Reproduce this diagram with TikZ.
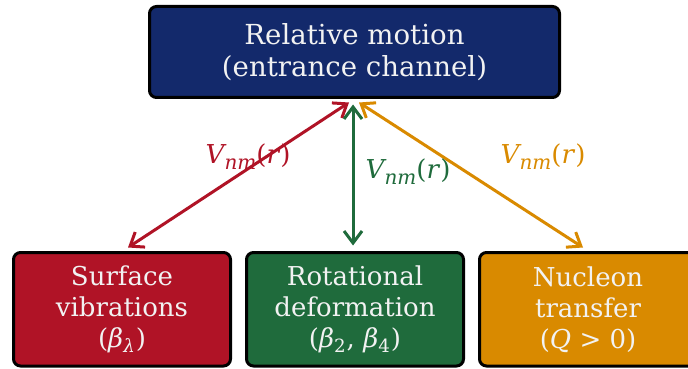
\documentclass[tikz,border=0pt]{standalone}
\usepackage{fontspec}
\setmainfont{DejaVu Serif}
\usetikzlibrary{arrows.meta,positioning}
\newcommand{\vnm}{\textit{V}\kern-1pt\raisebox{-0.45ex}{\fontsize{10}{10}\selectfont\textit{nm}}(\textit{r})}
\definecolor{cplNavy}{HTML}{13296B}
\definecolor{cplRed}{HTML}{B01326}
\definecolor{cplGreen}{HTML}{1F6B3C}
\definecolor{cplAmber}{HTML}{D98A00}
\definecolor{cplText}{HTML}{F2F2F2}
\tikzset{
    >={Straight Barb[length=6pt,width=9pt,line width=1.5pt]},
    chanbox/.style={draw=black, line width=1.5pt, rounded corners=3.5pt, align=center, text=cplText, inner sep=0pt},
    mainbox/.style={chanbox, fill=cplNavy, minimum width=205pt, minimum height=45.5pt, font=\fontsize{13.8}{16}\selectfont},
    subbox/.style={chanbox, minimum width=108.5pt, minimum height=56.75pt},
    coupling/.style={<->, line width=1.5pt},
    vlabel/.style={inner sep=1pt}
}
\begin{document}
\begin{tikzpicture}[x=0.5pt,y=-0.5pt,font=\fontsize{13}{15.5}\selectfont]
\useasboundingbox (0,0) rectangle (688,368);
\clip (0,0) rectangle (688,368);
% boxes
\node[mainbox] (rel) at (354.5,52) {Relative motion\\(entrance channel)};
\node[subbox, fill=cplRed] (surf) at (122,309.25) {Surface\\vibrations\\(\textit{β}\textsubscript{\textit{λ}})};
\node[subbox, fill=cplGreen] (rot) at (355,309.25) {Rotational\\deformation\\(\textit{β}\textsubscript{2}, \textit{β}\textsubscript{4})};
\node[subbox, fill=cplAmber] (trans) at (588,309.25) {Nucleon\\transfer\\(\textit{Q} > 0)};
% couplings
\draw[coupling, cplRed] ([xshift=3pt,yshift=1.75pt]surf.north) -- ([xshift=-2.75pt,yshift=-1.75pt]rel.south);
\draw[coupling, cplGreen] ([xshift=-0.75pt,yshift=-2.75pt]rel.south) -- ([xshift=-1pt,yshift=2.75pt]rot.north);
\draw[coupling, cplAmber] ([xshift=2.25pt,yshift=-1.75pt]rel.south) -- ([xshift=-2.5pt,yshift=1.75pt]trans.north);
\node[vlabel, text=cplRed] (vsurf) at (248,157) {\vnm};
\node[vlabel, text=cplGreen] (vrot) at (408,172) {\vnm};
\node[vlabel, text=cplAmber] (vtrans) at (543,157) {\vnm};
\end{tikzpicture}
\end{document}
